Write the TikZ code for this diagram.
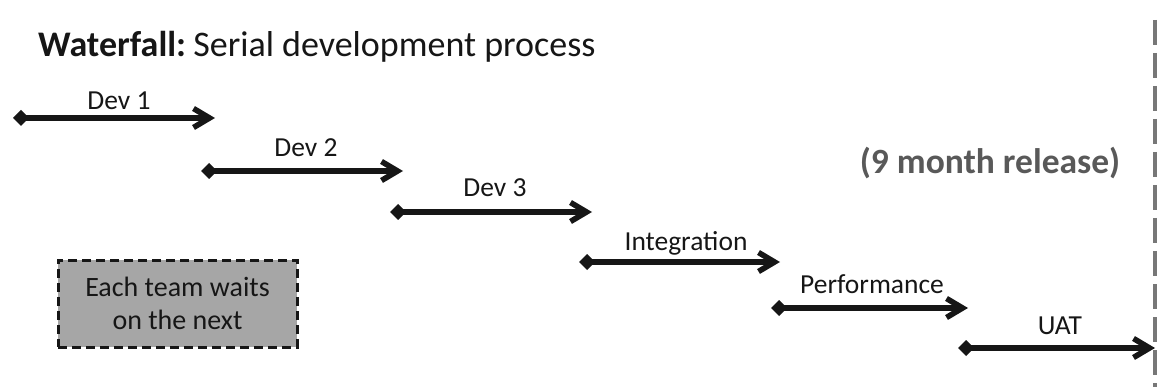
\documentclass[tikz,border=0pt]{standalone}
\usepackage{fontspec}
\setmainfont{Carlito}
\usetikzlibrary{arrows.meta}
\definecolor{ink}{HTML}{161616}
\definecolor{notegray}{HTML}{A6A6A6}
\definecolor{releasegray}{HTML}{595959}
\definecolor{markgray}{HTML}{777777}
\tikzset{
  phase/.style={draw=ink, line width=5.6pt,
    {Diamond[length=16pt,width=16pt]}-{Straight Barb[length=16pt,width=19pt]}},
  phaselabel/.style={font=\fontsize{27.5}{30}\selectfont, text=ink, anchor=base, inner sep=0pt},
  note/.style={draw=ink, fill=notegray, line width=3pt, dash pattern=on 9pt off 5pt,
    minimum width=239pt, minimum height=87pt, align=center, text=ink,
    font=\fontsize{28}{33}\selectfont, inner sep=0pt},
}
\begin{document}
\begin{tikzpicture}[x=1pt,y=-1pt]
  \useasboundingbox (0,0) rectangle (1158,387);

  % heading
  \node[anchor=base west, inner sep=0pt, text=ink, font=\fontsize{36}{40}\selectfont]
    (title) at (38,57) {\textbf{Waterfall:}\hspace{0.2em}Serial development process};

  % release marker
  \coordinate (mtop) at (1155,20);
  \coordinate (mbot) at (1155,387);
  \draw[markgray, line width=4.6pt, dash pattern=on 25pt off 8pt] (mtop) -- (mbot);

  \node[anchor=base, inner sep=0pt, text=releasegray, font=\bfseries\fontsize{35.5}{38}\selectfont]
    (release) at (990,174) {(9 month release)};

  % phases, one after the other
  \coordinate (s1) at (13,118);  \coordinate (e1) at (215,118);
  \coordinate (s2) at (201,171); \coordinate (e2) at (403,171);
  \coordinate (s3) at (390,212); \coordinate (e3) at (592,212);
  \coordinate (s4) at (579,262); \coordinate (e4) at (780,262);
  \coordinate (s5) at (771,308); \coordinate (e5) at (968,308);
  \coordinate (s6) at (958,348); \coordinate (e6) at (1155,348);

  \draw[phase] (s1) -- (e1);
  \draw[phase] (s2) -- (e2);
  \draw[phase] (s3) -- (e3);
  \draw[phase] (s4) -- (e4);
  \draw[phase] (s5) -- (e5);
  \draw[phase] (s6) -- (e6);

  \node[phaselabel] (l1) at (119,110) {Dev 1};
  \node[phaselabel] (l2) at (306,157) {Dev 2};
  \node[phaselabel] (l3) at (495,197) {Dev 3};
  \node[phaselabel] (l4) at (686,251) {Integration};
  \node[phaselabel] (l5) at (872,293) {Performance};
  \node[phaselabel] (l6) at (1060,334) {UAT};

  % note box
  \node[note] (wait) at (177.5,303.5) {Each team waits\\on the next};
\end{tikzpicture}
\end{document}
